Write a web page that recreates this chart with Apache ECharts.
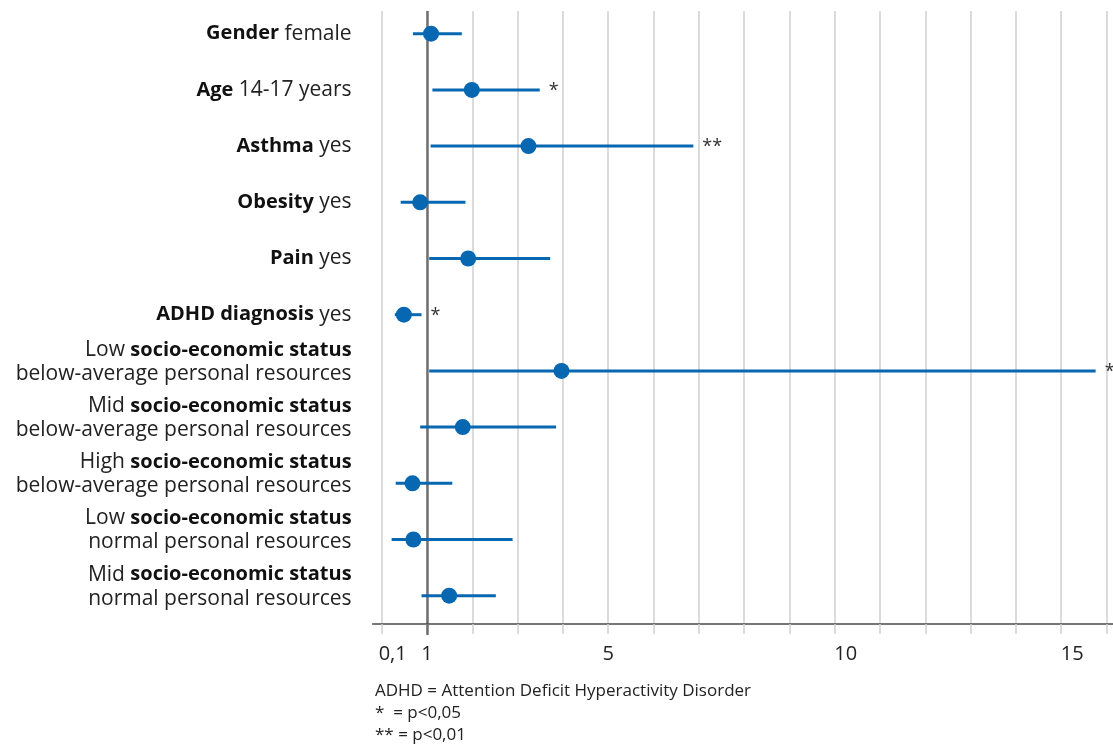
<!DOCTYPE html>
<html>
<head>
<meta charset="utf-8">
<script src="https://cdn.jsdelivr.net/npm/echarts@6/dist/echarts.min.js"></script>
<style>
html,body{margin:0;padding:0;background:#fff;}
#c{width:1113px;height:744px;}
</style>
</head>
<body>
<div id="c"></div>
<script>
// ---- data ----
const labelBold = ['Gender', 'Age', 'Asthma', 'Obesity', 'Pain', 'ADHD diagnosis',
  'socio-economic status', 'socio-economic status', 'socio-economic status', 'socio-economic status', 'socio-economic status'];
const labelPrefix = ['', '', '', '', '', '', 'Low ', 'Mid ', 'High ', 'Low ', 'Mid '];
const labelSuffix = ['female', '14-17 years', 'yes', 'yes', 'yes', 'yes', '', '', '', '', ''];
const labelSecond = ['', '', '', '', '', '',
  'below-average personal resources', 'below-average personal resources', 'below-average personal resources',
  'normal personal resources', 'normal personal resources'];
const oddsRatio = [1.09, 1.99, 3.24, 0.85, 1.91, 0.49, 3.97, 1.79, 0.68, 0.70, 1.49];
const ciLower   = [0.69, 1.12, 1.08, 0.42, 1.05, 0.29, 1.05, 0.85, 0.31, 0.22, 0.88];
const ciUpper   = [1.77, 3.49, 6.88, 1.85, 3.72, 0.88, 15.76, 3.85, 1.56, 2.89, 2.52];
const significance = ['', '*', '**', '', '', '*', '*', '', '', '', ''];
const xTickValues = [0, 1, 5, 10, 15];
const xTickLabels = ['0,1', '1', '5', '10', '15'];
const xGridValues = [0, 1, 2, 3, 4, 5, 6, 7, 8, 9, 10, 11, 12, 13, 14, 15, 16, 17];
const footnotes = ['ADHD = Attention Deficit Hyperactivity Disorder', '*  = p<0,05', '** = p<0,01'];

const FONT = 'Open Sans';
const BLUE = '#0767b1';
const X_MIN = -0.2, X_MAX = 17;
const rows = oddsRatio.map((_, i) => i);

function rowLabel(i) {
  if (labelSecond[i]) {
    return '{r|' + labelPrefix[i] + '}{b|' + labelBold[i] + '}\n{r|' + labelSecond[i] + '}\n{e| }';
  }
  return '{b|' + labelBold[i] + '}{r| ' + labelSuffix[i] + '}';
}
const labelRich = {
  b: {fontFamily: FONT, fontWeight: 'bold', fontSize: 20, fill: '#111', color: '#111', lineHeight: 24},
  r: {fontFamily: FONT, fontSize: 21, fill: '#222', color: '#222', lineHeight: 24},
  e: {fontSize: 4, lineHeight: 18}
};

const chart = echarts.init(document.getElementById('c'), null, {renderer: 'canvas'});
const GRID_LEFT = 372.6, GRID_TOP = 11, GRID_H = 613, GRID_W = 779.2;

const option = {
  animation: false,
  backgroundColor: '#ffffff',
  grid: {left: GRID_LEFT, top: GRID_TOP, width: GRID_W, height: GRID_H, containLabel: false, outerBoundsMode: 'none'},
  xAxis: [{
    type: 'value', min: X_MIN, max: X_MAX, position: 'bottom',
    axisLine: {show: true, onZero: false, lineStyle: {color: '#4a4a4a', width: 1.5}},
    axisTick: {show: true, customValues: xGridValues, length: 10, lineStyle: {color: '#cfcfcf', width: 1.5}},
    splitLine: {show: true, lineStyle: {color: '#cfcfcf', width: 1.5}},
    axisLabel: {
      show: true, customValues: xTickValues, margin: 20, showMinLabel: true, showMaxLabel: true,
      fontFamily: FONT, fontSize: 20, color: '#222',
      formatter: function (v) {
        const k = xTickValues.indexOf(v);
        const t = xTickLabels[k];
        return t.length > 1 ? '{w|' + t + '}' : t;
      },
      rich: {w: {fontFamily: FONT, fontSize: 20, color: '#222', padding: [0, 0, 0, 22]}}
    }
  }, {
    type: 'value', min: X_MIN, max: X_MAX, position: 'bottom', offset: 0,
    axisLine: {show: false, onZero: false},
    axisTick: {show: true, customValues: [1], length: 11, lineStyle: {color: '#707070', width: 2.5}},
    splitLine: {show: true, lineStyle: {color: '#707070', width: 2.5}},
    axisLabel: {show: false}
  }],
  yAxis: {
    type: 'value', inverse: true, min: -0.404, max: 10.504,
    axisLine: {show: false}, axisTick: {show: false}, splitLine: {show: false},
    axisLabel: {show: false}
  },
  series: [{
    // row labels, placed left of the plot area at each row
    type: 'custom',
    xAxisIndex: 0,
    clip: false,
    renderItem: function (params, api) {
      const i = api.value(0);
      const p = api.coord([X_MIN, i]);
      return {
        type: 'text',
        style: {
          text: rowLabel(params.dataIndex), rich: labelRich,
          x: p[0] - 21, y: p[1], align: 'right', verticalAlign: 'middle',
          fill: '#222', font: '21px ' + FONT
        }
      };
    },
    encode: {y: 0},
    data: rows.map(i => [i]),
    silent: true,
    z: 2
  }, {
    type: 'custom',
    xAxisIndex: 0,
    clip: false,
    renderItem: function (params, api) {
      const y = api.value(0);
      const lo = api.coord([api.value(1), y]);
      const hi = api.coord([api.value(2), y]);
      const children = [{
        type: 'line',
        shape: {x1: lo[0], y1: lo[1], x2: hi[0], y2: hi[1]},
        style: {stroke: BLUE, lineWidth: 3}
      }];
      const s = significance[params.dataIndex];
      if (s) {
        children.push({
          type: 'text',
          style: {text: s, x: hi[0] + 9, y: hi[1] + 1, fill: '#333', font: '18px ' + FONT, verticalAlign: 'middle', align: 'left'}
        });
      }
      return {type: 'group', children: children};
    },
    encode: {x: [1, 2], y: 0},
    data: rows.map(i => [i, ciLower[i], ciUpper[i]]),
    z: 3
  }, {
    type: 'scatter',
    xAxisIndex: 0,
    symbol: 'circle', symbolSize: 16,
    itemStyle: {color: BLUE, opacity: 1},
    data: rows.map(i => [oddsRatio[i], i]),
    z: 4
  }],
  graphic: footnotes.map((t, k) => ({
    type: 'text', left: 375, top: 683 + k * 22,
    style: {text: t, fill: '#222', font: '17px ' + FONT}
  }))
};
chart.setOption(option);
</script>
</body>
</html>
